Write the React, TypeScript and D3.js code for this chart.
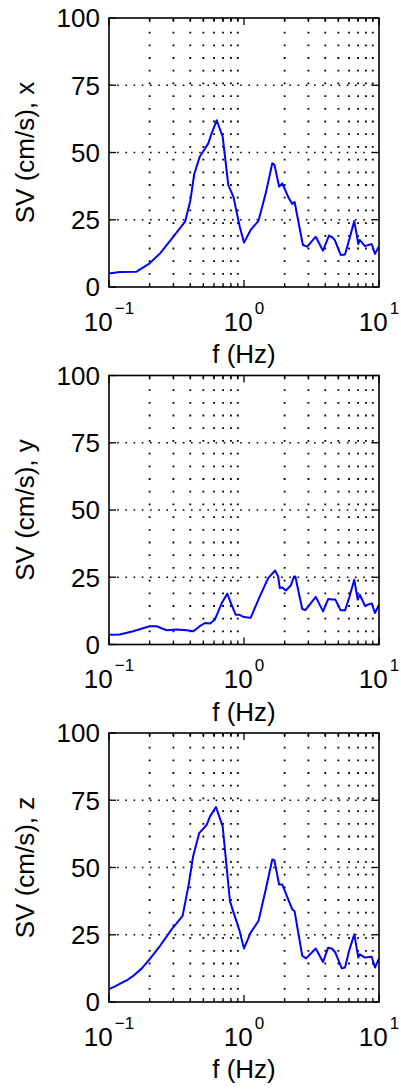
import React, { useRef, useEffect } from 'react';
import * as d3 from 'd3';

// spectral velocity (f in Hz, SV in cm/s)
const fX = [0.1, 0.12, 0.16, 0.2, 0.239, 0.3, 0.366, 0.4, 0.428, 0.47, 0.544, 0.575, 0.628, 0.695, 0.765, 0.834, 0.93, 1.0, 1.12, 1.28, 1.45, 1.62, 1.68, 1.82, 1.92, 2.15, 2.28, 2.37, 2.73, 2.94, 3.4, 3.85, 4.26, 4.5, 4.7, 5.2, 5.6, 6.1, 6.56, 7.03, 7.2, 7.87, 8.83, 9.34, 10];
const svX = [5.0, 5.6, 5.7, 8.8, 12.5, 18.7, 24.3, 32, 42, 48.4, 53.4, 57, 62, 55.9, 37.9, 33.6, 22.4, 16.5, 21.2, 24.6, 34.9, 46, 45.5, 37.3, 38.5, 33, 30.9, 31.6, 15.6, 15.0, 18.7, 13.5, 19.1, 18.5, 17.5, 11.9, 12.1, 18.7, 24.5, 16, 17.5, 15.2, 16, 12.3, 15.2];

const fY = [0.1, 0.12, 0.151, 0.2, 0.225, 0.267, 0.317, 0.376, 0.422, 0.47, 0.514, 0.56, 0.61, 0.684, 0.752, 0.8, 0.867, 0.92, 1.0, 1.12, 1.31, 1.51, 1.7, 1.79, 1.84, 1.92, 2.04, 2.22, 2.35, 2.4, 2.7, 2.85, 3.4, 3.85, 4.2, 4.5, 4.75, 5.2, 5.6, 6.0, 6.56, 6.95, 7.2, 7.87, 8.83, 9.34, 10];
const svY = [3.6, 3.7, 4.9, 6.8, 6.8, 5.3, 5.6, 5.3, 4.9, 6.8, 8.0, 7.8, 9.3, 15.4, 18.9, 15.4, 11.1, 11.1, 10.2, 9.9, 17.9, 24.7, 27.5, 25.3, 21, 21.2, 20.1, 21.9, 25.3, 25.3, 13.2, 12.8, 17.7, 12.3, 16.9, 16.7, 16.7, 12.7, 12.7, 17.3, 24.1, 16.7, 18.5, 14.4, 15.3, 11.7, 14.8];

const fZ = [0.1, 0.11, 0.12, 0.135, 0.151, 0.175, 0.2, 0.239, 0.291, 0.351, 0.387, 0.42, 0.466, 0.53, 0.56, 0.62, 0.695, 0.787, 0.834, 0.92, 1.0, 1.12, 1.28, 1.45, 1.62, 1.68, 1.82, 1.92, 2.15, 2.28, 2.37, 2.7, 2.88, 3.4, 3.85, 4.2, 4.5, 4.75, 5.3, 5.6, 6.0, 6.56, 7.03, 7.2, 7.87, 8.83, 9.34, 10];
const svZ = [4.8, 5.7, 6.7, 8.0, 9.7, 12.5, 15.9, 20.9, 27, 32, 43, 54.2, 62.8, 65.9, 69, 72.5, 65.3, 37.5, 33.5, 27, 19.9, 25.8, 30.1, 41.9, 53, 52.6, 43.7, 43.7, 37.5, 34.4, 33.7, 17.2, 16.2, 19.9, 14.9, 20.2, 19.8, 18.4, 12.5, 12.8, 19, 25.2, 16.5, 17.7, 16.5, 16.8, 12.8, 16.2];

const yTicks = [0, 25, 50, 75, 100];
const yGrid = [25, 50, 75];
const xMajor = [0.1, 1, 10];
const xMajorExp = ['\u22121', '0', '1'];
const xMinor = [0.2, 0.3, 0.4, 0.5, 0.6, 0.7, 0.8, 0.9, 2, 3, 4, 5, 6, 7, 8, 9];
const yLabels = ['SV (cm/s), x', 'SV (cm/s), y', 'SV (cm/s), z'];

const panels = [
  { f: fX, v: svX, label: yLabels[0] },
  { f: fY, v: svY, label: yLabels[1] },
  { f: fZ, v: svZ, label: yLabels[2] },
];

export default function App() {
  const ref = useRef<SVGSVGElement>(null);

  useEffect(() => {
    const svg = d3.select(ref.current);
    svg.selectAll('*').remove();

    const left = 109, right = 379, h = 269;
    const tops = [18, 375.5, 733];
    const font = '"Liberation Sans", Arial, sans-serif';

    const x = d3.scaleLog().domain([0.1, 10]).range([left, right]);

    panels.forEach((p, i) => {
      const top = tops[i];
      const bottom = top + h;
      const y = d3.scaleLinear().domain([0, 100]).range([bottom, top]);
      const g = svg.append('g');

      g.append('clipPath').attr('id', `clip${i}`)
        .append('rect').attr('x', left).attr('y', top).attr('width', right - left).attr('height', h);

      // dotted grid
      g.selectAll('.vgrid').data(xMinor).enter().append('line')
        .attr('x1', d => x(d)).attr('x2', d => x(d))
        .attr('y1', top + 1).attr('y2', bottom)
        .attr('stroke', '#000').attr('stroke-width', 1.8)
        .attr('stroke-dasharray', '1.8 10.9');
      g.selectAll('.hgrid').data(yGrid).enter().append('line')
        .attr('x1', left).attr('x2', right)
        .attr('y1', d => y(d)).attr('y2', d => y(d))
        .attr('stroke', '#000').attr('stroke-width', 1.5)
        .attr('stroke-dasharray', '1.6 6.6');

      // curve
      const pts = p.f.map((f, k) => [f, p.v[k]] as [number, number]);
      const line = d3.line<[number, number]>().x(d => x(d[0])).y(d => y(d[1]));
      g.append('path').datum(pts)
        .attr('d', line)
        .attr('fill', 'none').attr('stroke', '#0000ff').attr('stroke-width', 2)
        .attr('stroke-linejoin', 'round')
        .attr('clip-path', `url(#clip${i})`);

      // ticks, inward on all sides
      xMajor.forEach(d => {
        g.append('line').attr('x1', x(d)).attr('x2', x(d)).attr('y1', bottom).attr('y2', bottom - 7).attr('stroke', '#000').attr('stroke-width', 1.3);
        g.append('line').attr('x1', x(d)).attr('x2', x(d)).attr('y1', top).attr('y2', top + 7).attr('stroke', '#000').attr('stroke-width', 1.3);
      });
      xMinor.forEach(d => {
        g.append('line').attr('x1', x(d)).attr('x2', x(d)).attr('y1', bottom).attr('y2', bottom - 4).attr('stroke', '#000').attr('stroke-width', 1.3);
        g.append('line').attr('x1', x(d)).attr('x2', x(d)).attr('y1', top).attr('y2', top + 4).attr('stroke', '#000').attr('stroke-width', 1.3);
      });
      yTicks.forEach(d => {
        g.append('line').attr('x1', left).attr('x2', left + 7).attr('y1', y(d)).attr('y2', y(d)).attr('stroke', '#000').attr('stroke-width', 1.3);
        g.append('line').attr('x1', right).attr('x2', right - 7).attr('y1', y(d)).attr('y2', y(d)).attr('stroke', '#000').attr('stroke-width', 1.3);
      });

      // box
      g.append('rect').attr('x', left).attr('y', top).attr('width', right - left).attr('height', h)
        .attr('fill', 'none').attr('stroke', '#000').attr('stroke-width', 1.6);

      // y tick labels
      g.selectAll('.ylab').data(yTicks).enter().append('text')
        .attr('x', 100).attr('y', d => y(d)).attr('dy', '0.36em')
        .attr('text-anchor', 'end')
        .style('font-family', font).style('font-size', '26px')
        .text(d => d);

      // x tick labels 10^n
      xMajor.forEach((d, k) => {
        const t = g.append('text')
          .attr('x', x(d)).attr('y', bottom + 43.5)
          .attr('text-anchor', 'middle')
          .style('font-family', font).style('font-size', '26px');
        t.append('tspan').text('10');
        t.append('tspan').attr('dx', 2).attr('dy', -17).style('font-size', '17px').text(xMajorExp[k]);
      });

      // axis labels
      g.append('text')
        .attr('x', (left + right) / 2).attr('y', bottom + 76)
        .attr('text-anchor', 'middle')
        .style('font-family', font).style('font-size', '26px')
        .text('f (Hz)');
      g.append('text')
        .attr('transform', `translate(34,${(top + bottom) / 2}) rotate(-90)`)
        .attr('text-anchor', 'middle')
        .style('font-family', font).style('font-size', '26px')
        .text(p.label);
    });
  }, []);

  return (
    <svg ref={ref} width={401} height={1090}
      style={{ position: 'absolute', left: 0, top: 0, background: '#fff' }} />
  );
}
